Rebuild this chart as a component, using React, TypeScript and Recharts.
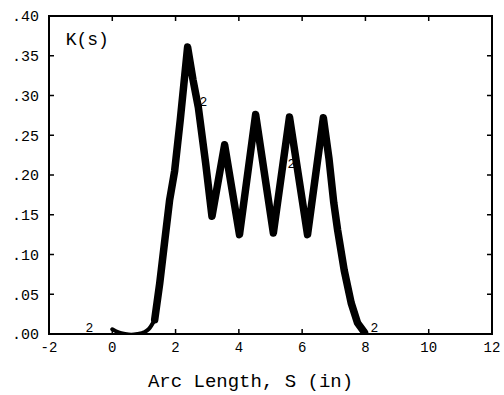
import React from 'react';
import { LineChart, Line, XAxis, YAxis, ReferenceDot, ReferenceArea, Label } from 'recharts';

// Arc length S (in) and curvature K(s)
const arcLength = [0, 0.2, 0.4, 0.6, 0.8, 1.0, 1.15, 1.34, 1.5, 1.66, 1.81, 1.97, 2.15, 2.38, 2.55, 2.72, 2.95, 3.15, 3.55, 4.02, 4.53, 5.09, 5.6, 6.17, 6.67, 6.85, 7.0, 7.12, 7.33, 7.55, 7.75, 7.97];
const curvature = [0.006, 0.002, 0.0, -0.001, 0.0, 0.002, 0.006, 0.018, 0.064, 0.118, 0.168, 0.205, 0.27, 0.361, 0.32, 0.285, 0.215, 0.148, 0.238, 0.125, 0.276, 0.127, 0.273, 0.125, 0.272, 0.22, 0.165, 0.131, 0.08, 0.039, 0.014, 0.002];
const thinUntil = 1.34;

const xTicks = [-2, 0, 2, 4, 6, 8, 10, 12];
const yTicks = [0, 0.05, 0.1, 0.15, 0.2, 0.25, 0.3, 0.35, 0.4];

const curveLabelX = [-0.72, 2.88, 5.66, 8.28];
const curveLabelY = [0.008, 0.292, 0.215, 0.008];
const curveLabelText = ['2', '2', '2', '2'];

const titleText = 'K(s)';
const titleX = -0.79;
const titleY = 0.372;
const xTitle = 'Arc Length, S (in)';

const data = arcLength.map((s, i) => ({
  s,
  thin: s <= thinUntil ? curvature[i] : null,
  thick: s >= thinUntil ? curvature[i] : null,
}));

const FONT = '"Liberation Mono", "DejaVu Sans Mono", monospace';

const fmtY = (v: number) => v.toFixed(2).replace(/^0/, '');

const BottomTick = (p: any) => (
  <g>
    <line x1={p.x} x2={p.x} y1={p.y} y2={p.y - 5} stroke="#000" strokeWidth={1.5} />
    <text x={p.x} y={p.y + 13} dy="0.35em" textAnchor="middle" fontFamily={FONT} fontSize={14} fill="#000">
      {p.payload.value}
    </text>
  </g>
);

const TopTick = (p: any) => (
  <line x1={p.x} x2={p.x} y1={p.y} y2={p.y + 5} stroke="#000" strokeWidth={1.5} />
);

const LeftTick = (p: any) => (
  <g>
    <line x1={p.x} x2={p.x + 5} y1={p.y} y2={p.y} stroke="#000" strokeWidth={1.5} />
    <text x={p.x - 10} y={p.y} dy="0.35em" textAnchor="end" fontFamily={FONT} fontSize={15} fill="#000">
      {fmtY(p.payload.value)}
    </text>
  </g>
);

const RightTick = (p: any) => (
  <line x1={p.x} x2={p.x - 5} y1={p.y} y2={p.y} stroke="#000" strokeWidth={1.5} />
);

const axisLine = { stroke: '#000', strokeWidth: 2 };

export default function App() {
  return (
    <div style={{ position: 'absolute', left: 0, top: 0, background: '#fff' }}>
      <LineChart width={504} height={395} data={data} margin={{ top: 15, right: 11, bottom: 0, left: 0 }}>
        <XAxis
          dataKey="s"
          type="number"
          domain={[-2, 12]}
          ticks={xTicks}
          allowDataOverflow
          height={61}
          tickSize={0}
          tickMargin={0}
          tick={BottomTick}
          tickLine={false}
          axisLine={axisLine}
        >
          <Label
            value={xTitle}
            position="insideBottom"
            offset={8}
            dx={-20}
            style={{ fontFamily: FONT, fontSize: 19, fill: '#000' }}
          />
        </XAxis>
        <XAxis
          xAxisId="top"
          dataKey="s"
          orientation="top"
          type="number"
          domain={[-2, 12]}
          ticks={xTicks}
          allowDataOverflow
          height={1}
          tickSize={0}
          tickMargin={0}
          tick={TopTick}
          tickLine={false}
          axisLine={axisLine}
        />
        <YAxis
          type="number"
          domain={[0, 0.4]}
          ticks={yTicks}
          allowDataOverflow
          width={49}
          tickSize={0}
          tickMargin={0}
          tick={LeftTick}
          tickLine={false}
          axisLine={axisLine}
        />
        <YAxis
          yAxisId="right"
          orientation="right"
          type="number"
          domain={[0, 0.4]}
          ticks={yTicks}
          allowDataOverflow
          width={1}
          tickSize={0}
          tickMargin={0}
          tick={RightTick}
          tickLine={false}
          axisLine={axisLine}
        />
        <ReferenceArea
          x1={xTicks[0]}
          x2={xTicks[xTicks.length - 1]}
          y1={yTicks[0]}
          y2={yTicks[yTicks.length - 1]}
          fill="none"
          fillOpacity={0}
          stroke="#000"
          strokeWidth={2}
          ifOverflow="visible"
        />
        {/* invisible series that binds the top/right frame axes */}
        <Line
          xAxisId="top"
          yAxisId="right"
          dataKey="thick"
          stroke="none"
          dot={false}
          activeDot={false}
          legendType="none"
          isAnimationActive={false}
        />
        <Line
          dataKey="thin"
          type="monotone"
          stroke="#000"
          strokeWidth={4}
          dot={false}
          connectNulls={false}
          isAnimationActive={false}
          strokeLinecap="round"
        />
        <Line
          dataKey="thick"
          type="linear"
          stroke="#000"
          strokeWidth={7.5}
          dot={false}
          connectNulls={false}
          isAnimationActive={false}
          strokeLinejoin="round"
          strokeLinecap="round"
        />
        {curveLabelX.map((x, i) => (
          <ReferenceDot
            key={i}
            x={x}
            y={curveLabelY[i]}
            r={0}
            fill="none"
            stroke="none"
            ifOverflow="visible"
            label={{ value: curveLabelText[i], position: 'center', style: { fontFamily: FONT, fontSize: 13, fill: '#000' } }}
          />
        ))}
        <ReferenceDot
          x={titleX}
          y={titleY}
          r={0}
          fill="none"
          stroke="none"
          ifOverflow="visible"
          label={{ value: titleText, position: 'center', style: { fontFamily: FONT, fontSize: 18, fill: '#000' } }}
        />
      </LineChart>
    </div>
  );
}
